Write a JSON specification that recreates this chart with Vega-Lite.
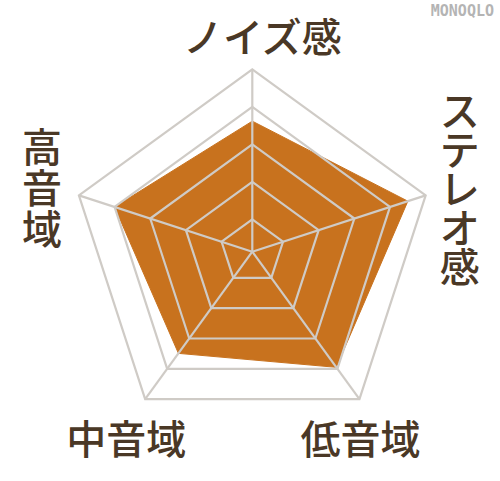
{
  "$schema": "https://vega.github.io/schema/vega-lite/v6.json",
  "width": 500,
  "height": 481,
  "autosize": {"type": "fit", "contains": "padding"},
  "padding": 0,
  "background": "#ffffff",
  "config": {"view": {"stroke": null}},
  "title": {
    "text": "MONOQLO",
    "anchor": "end",
    "frame": "group",
    "orient": "top",
    "offset": -19,
    "dx": -6,
    "font": "DejaVu Sans Mono",
    "fontSize": 15,
    "fontWeight": "bold",
    "color": "#b4b4b4"
  },
  "data": {
    "values": [
      {"axis": "ノイズ感", "score": 3.62, "levels": [1, 2, 3, 4, 5]},
      {"axis": "ステレオ感", "score": 4.5, "levels": [1, 2, 3, 4, 5]},
      {"axis": "低音域", "score": 3.95, "levels": [1, 2, 3, 4, 5]},
      {"axis": "中音域", "score": 3.49, "levels": [1, 2, 3, 4, 5]},
      {"axis": "高音域", "score": 4.0, "levels": [1, 2, 3, 4, 5]}
    ]
  },
  "transform": [
    {"calculate": "indexof(['ノイズ感','ステレオ感','低音域','中音域','高音域'], datum.axis) * 2 * PI / 5", "as": "angle"}
  ],
  "encoding": {
    "x": {"field": "x", "type": "quantitative", "scale": {"domain": [-252.3, 247.7], "nice": false, "zero": false}, "axis": null},
    "y": {"field": "y", "type": "quantitative", "scale": {"domain": [-229.3, 251.7], "nice": false, "zero": false}, "axis": null}
  },
  "layer": [
    {
      "transform": [
        {"calculate": "37.5 * datum.score - 5.2", "as": "r"},
        {"calculate": "datum.r * sin(datum.angle)", "as": "x"},
        {"calculate": "datum.r * cos(datum.angle)", "as": "y"}
      ],
      "mark": {"type": "line", "interpolate": "linear-closed", "fill": "#c8721e", "stroke": "#c8721e", "strokeWidth": 1},
      "encoding": {"order": {"field": "angle", "type": "quantitative"}}
    },
    {
      "transform": [
        {"flatten": ["levels"], "as": ["level"]},
        {"calculate": "37.5 * datum.level - 5.2", "as": "r"},
        {"calculate": "datum.r * sin(datum.angle)", "as": "x"},
        {"calculate": "datum.r * cos(datum.angle)", "as": "y"}
      ],
      "mark": {"type": "line", "interpolate": "linear-closed", "stroke": "#cfcbc6", "strokeWidth": 2.2},
      "encoding": {
        "detail": {"field": "level", "type": "ordinal"},
        "order": {"field": "angle", "type": "quantitative"}
      }
    },
    {
      "transform": [
        {"calculate": "182.3 * sin(datum.angle)", "as": "x"},
        {"calculate": "182.3 * cos(datum.angle)", "as": "y"}
      ],
      "mark": {"type": "rule", "stroke": "#cfcbc6", "strokeWidth": 2.2},
      "encoding": {"x2": {"datum": 0}, "y2": {"datum": 0}}
    },
    {
      "transform": [
        {"filter": "datum.axis == 'ノイズ感'"},
        {"calculate": "218 * sin(datum.angle)", "as": "x"},
        {"calculate": "218 * cos(datum.angle)", "as": "y"}
      ],
      "mark": {"type": "text", "font": "Noto Sans CJK JP", "fontSize": 40, "fontWeight": 500, "color": "#4a3826", "align": "center", "baseline": "middle", "dx": 10, "dy": 6},
      "encoding": {"text": {"field": "axis"}}
    },
    {
      "transform": [
        {"filter": "datum.axis == 'ステレオ感'"},
        {"calculate": "218 * sin(datum.angle)", "as": "x"},
        {"calculate": "218 * cos(datum.angle)", "as": "y"},
        {"calculate": "split(datum.axis, '')", "as": "chars"}
      ],
      "mark": {"type": "text", "font": "Noto Sans CJK JP", "fontSize": 40, "fontWeight": 500, "color": "#4a3826", "align": "center", "baseline": "middle", "lineHeight": 39, "dx": 0, "dy": -70},
      "encoding": {"text": {"field": "chars"}}
    },
    {
      "transform": [
        {"filter": "datum.axis == '高音域'"},
        {"calculate": "218 * sin(datum.angle)", "as": "x"},
        {"calculate": "218 * cos(datum.angle)", "as": "y"},
        {"calculate": "split(datum.axis, '')", "as": "chars"}
      ],
      "mark": {"type": "text", "font": "Noto Sans CJK JP", "fontSize": 40, "fontWeight": 500, "color": "#4a3826", "align": "center", "baseline": "middle", "lineHeight": 41, "dx": -3, "dy": -34},
      "encoding": {"text": {"field": "chars"}}
    },
    {
      "transform": [
        {"filter": "datum.axis == '中音域'"},
        {"calculate": "218 * sin(datum.angle)", "as": "x"},
        {"calculate": "218 * cos(datum.angle)", "as": "y"}
      ],
      "mark": {"type": "text", "font": "Noto Sans CJK JP", "fontSize": 40, "fontWeight": 500, "color": "#4a3826", "align": "center", "baseline": "middle", "dx": 2, "dy": 14},
      "encoding": {"text": {"field": "axis"}}
    },
    {
      "transform": [
        {"filter": "datum.axis == '低音域'"},
        {"calculate": "218 * sin(datum.angle)", "as": "x"},
        {"calculate": "218 * cos(datum.angle)", "as": "y"}
      ],
      "mark": {"type": "text", "font": "Noto Sans CJK JP", "fontSize": 40, "fontWeight": 500, "color": "#4a3826", "align": "center", "baseline": "middle", "dx": -20, "dy": 14},
      "encoding": {"text": {"field": "axis"}}
    }
  ]
}
